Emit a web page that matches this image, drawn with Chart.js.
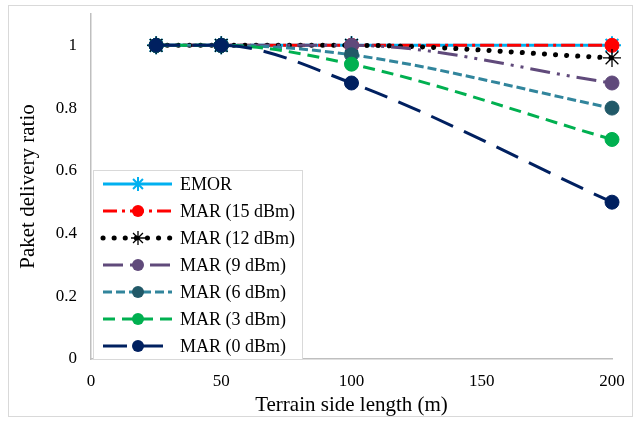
<!DOCTYPE html>
<html>
<head>
<meta charset="utf-8">
<script src="https://cdn.jsdelivr.net/npm/chart.js@4/dist/chart.umd.min.js"></script>
<style>
  html, body { margin: 0; padding: 0; background: #ffffff; }
  #wrap { width: 634px; height: 422px; position: relative; }
</style>
</head>
<body>
<div id="wrap"><canvas id="c" width="634" height="422"></canvas></div>
<script>
// Terrain side length (m)
const terrainSide = [25, 50, 100, 200];
// Packet delivery ratio per protocol / transmit power
const emor   = [1, 1, 1, 1];
const mar15  = [1, 1, 1, 1];
const mar12  = [1, 1, 1, 0.96];
const mar9   = [1, 1, 1, 0.88];
const mar6   = [1, 1, 0.97, 0.80];
const mar3   = [1, 1, 0.94, 0.70];
const mar0   = [1, 1, 0.88, 0.50];
const seriesNames = ['EMOR', 'MAR (15 dBm)', 'MAR (12 dBm)', 'MAR (9 dBm)', 'MAR (6 dBm)', 'MAR (3 dBm)', 'MAR (0 dBm)'];
const xTicks = [0, 50, 100, 150, 200];
const yTicks = [0, 0.2, 0.4, 0.6, 0.8, 1];

const SERIF = '"Liberation Serif", "Times New Roman", serif';

function pts(vals) {
  return terrainSide.map((x, i) => ({ x: x, y: vals[i] }));
}

const styles = [
  { line: '#00B0F0', mark: '#00B0F0', dash: [],                 width: 3,   cap: 'butt',  point: 'star',   r: 9, pw: 2 },
  { line: '#FF0000', mark: '#FF0000', dash: [14, 5, 3, 5],      width: 3,   cap: 'butt',  point: 'circle', r: 7, pw: 1 },
  { line: '#000000', mark: '#000000', dash: [0.1, 11],          width: 5,   cap: 'round', point: 'star',   r: 9, pw: 1.3 },
  { line: '#604A7B', mark: '#604A7B', dash: [20, 7, 3, 7, 3, 7], width: 3,  cap: 'butt',  point: 'circle', r: 7, pw: 1 },
  { line: '#31859C', mark: '#215968', dash: [9, 4],             width: 3,   cap: 'butt',  point: 'circle', r: 7, pw: 1 },
  { line: '#00B050', mark: '#00B050', dash: [12, 7],            width: 3,   cap: 'butt',  point: 'circle', r: 7, pw: 1 },
  { line: '#002060', mark: '#002060', dash: [24, 12],           width: 3,   cap: 'butt',  point: 'circle', r: 7, pw: 1 }
];
const values = [emor, mar15, mar12, mar9, mar6, mar3, mar0];

const datasets = values.map((v, i) => {
  const s = styles[i];
  return {
    label: seriesNames[i],
    data: pts(v),
    borderColor: s.line,
    borderWidth: s.width,
    borderDash: s.dash,
    borderCapStyle: s.cap,
    cubicInterpolationMode: 'monotone',
    pointStyle: s.point,
    pointRadius: s.r,
    pointHoverRadius: s.r,
    pointBackgroundColor: s.mark,
    pointBorderColor: s.mark,
    pointBorderWidth: s.pw,
    fill: false,
    clip: false,
    // later series drawn on top
    order: values.length - i
  };
});

function drawMarker(ctx, s, x, y, r) {
  ctx.save();
  ctx.setLineDash([]);
  ctx.fillStyle = s.mark;
  ctx.strokeStyle = s.mark;
  if (s.point === 'circle') {
    ctx.beginPath();
    ctx.arc(x, y, r, 0, Math.PI * 2);
    ctx.fill();
  } else {
    ctx.lineWidth = s.pw;
    ctx.beginPath();
    for (let k = 0; k < 4; k++) {
      const a = k * Math.PI / 4;
      ctx.moveTo(x - Math.cos(a) * r, y - Math.sin(a) * r);
      ctx.lineTo(x + Math.cos(a) * r, y + Math.sin(a) * r);
    }
    ctx.stroke();
  }
  ctx.restore();
}

const framePlugin = {
  id: 'frame',
  beforeDraw(chart) {
    const ctx = chart.ctx;
    ctx.save();
    ctx.fillStyle = '#ffffff';
    ctx.fillRect(0, 0, chart.width, chart.height);
    ctx.strokeStyle = '#D9D9D9';
    ctx.lineWidth = 1;
    ctx.strokeRect(8.5, 5.5, 624, 411);
    ctx.restore();
  }
};

// Boxed legend inside the plot: line sample with marker, then the series name
const legendPlugin = {
  id: 'boxLegend',
  afterDraw(chart) {
    const ctx = chart.ctx;
    const bx = 93, by = 170, bw = 209, bh = 189;
    ctx.save();
    ctx.fillStyle = '#ffffff';
    ctx.fillRect(bx, by, bw, bh);
    ctx.strokeStyle = '#D9D9D9';
    ctx.lineWidth = 1;
    ctx.strokeRect(bx + 0.5, by + 0.5, bw, bh);
    ctx.font = '18px ' + SERIF;
    ctx.textBaseline = 'middle';
    ctx.textAlign = 'left';
    seriesNames.forEach((name, i) => {
      const s = styles[i];
      const y = 184 + i * 27;
      ctx.save();
      ctx.strokeStyle = s.line;
      ctx.lineWidth = s.width;
      ctx.lineCap = s.cap;
      ctx.setLineDash(s.dash);
      ctx.beginPath();
      ctx.moveTo(103, y);
      ctx.lineTo(172, y);
      ctx.stroke();
      ctx.restore();
      drawMarker(ctx, s, 138, y, s.point === 'circle' ? 6 : 7);
      ctx.fillStyle = '#000000';
      ctx.fillText(name, 180, y + 1);
    });
    ctx.restore();
  }
};

new Chart(document.getElementById('c'), {
  type: 'line',
  data: { datasets: datasets },
  options: {
    responsive: false,
    animation: false,
    events: [],
    layout: { padding: { left: 0, right: 22, top: 14, bottom: 0 } },
    plugins: {
      legend: { display: false },
      tooltip: { enabled: false }
    },
    scales: {
      x: {
        type: 'linear',
        min: 0,
        max: 200,
        afterBuildTicks: (scale) => { scale.ticks = xTicks.map(v => ({ value: v })); },
        afterFit: (scale) => { scale.height = 63; scale.paddingLeft = 0; scale.paddingRight = 0; },
        grid: { display: false, drawTicks: false },
        border: { display: true, color: '#BFBFBF', width: 1.5 },
        ticks: { color: '#000000', font: { family: SERIF, size: 17 }, padding: 12, maxRotation: 0 },
        title: {
          display: true,
          text: 'Terrain side length (m)',
          color: '#000000',
          font: { family: SERIF, size: 21 },
          padding: { top: 0, bottom: 4 }
        }
      },
      y: {
        type: 'linear',
        min: 0,
        max: 1.1,
        afterBuildTicks: (scale) => { scale.ticks = yTicks.map(v => ({ value: v })); },
        afterFit: (scale) => { scale.width = 91; scale.paddingTop = 0; scale.paddingBottom = 0; },
        grid: { display: false, drawTicks: false },
        border: { display: true, color: '#BFBFBF', width: 1.5 },
        ticks: {
          color: '#000000',
          font: { family: SERIF, size: 17 },
          padding: 14,
          callback: (v) => String(Math.round(v * 10) / 10)
        },
        title: {
          display: true,
          text: 'Paket delivery ratio',
          color: '#000000',
          font: { family: SERIF, size: 21 },
          padding: { top: 16, bottom: 0 }
        }
      }
    }
  },
  plugins: [framePlugin, legendPlugin]
});
</script>
</body>
</html>
